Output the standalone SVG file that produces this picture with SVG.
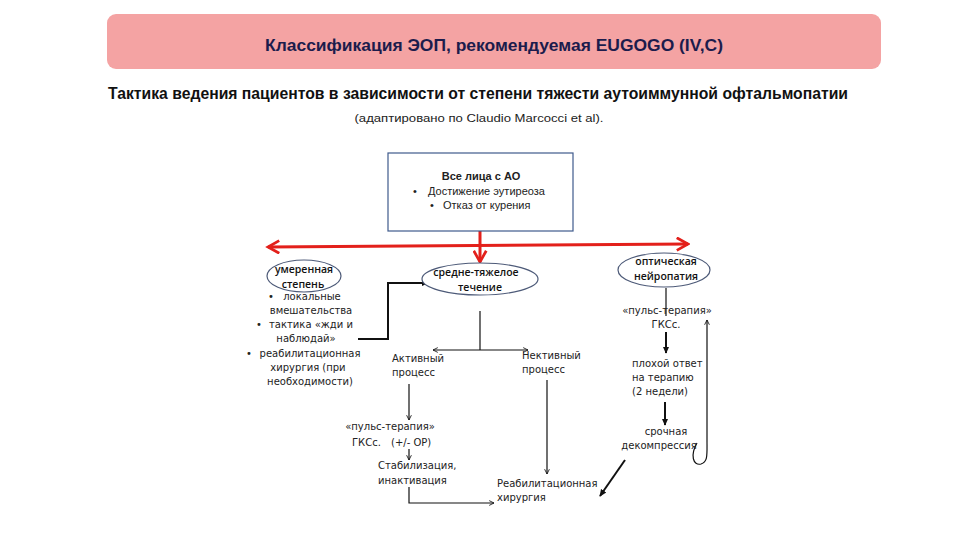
<svg xmlns="http://www.w3.org/2000/svg" width="960" height="540" viewBox="0 0 960 540">
<defs>
<style>
.title{font-family:"Liberation Sans",Arial,sans-serif;font-weight:bold;fill:#1c1c4c}
.box{font-family:"Liberation Sans",Arial,sans-serif;font-size:11px;fill:#222}
.ell{font-family:"Open Sans","Liberation Sans",sans-serif;font-weight:600;font-size:10.5px;fill:#111}
.lbl{font-family:"DejaVu Sans","Liberation Sans",sans-serif;font-size:10px;fill:#222}
.red{stroke:#e3201b;stroke-width:3;fill:none}
.ln{stroke:#111;stroke-width:1.2;fill:none}
.lnb{stroke:#111;stroke-width:2;fill:none}
.node{fill:#fff;stroke:#4d5a78;stroke-width:1.2}
</style>
<marker id="rh" viewBox="0 0 12 12" refX="10" refY="6" markerWidth="5" markerHeight="5" orient="auto-start-reverse" markerUnits="strokeWidth">
<path d="M1,1 L10,6 L1,11" fill="none" stroke="#e3201b" stroke-width="2.2"/>
</marker>
<marker id="ah" viewBox="0 0 10 10" refX="9" refY="5" markerWidth="6" markerHeight="6" orient="auto-start-reverse" markerUnits="userSpaceOnUse">
<path d="M1,1 L9,5 L1,9" fill="none" stroke="#111" stroke-width="1.4"/>
</marker>
<marker id="af" viewBox="0 0 10 10" refX="8" refY="5" markerWidth="8" markerHeight="8" orient="auto" markerUnits="userSpaceOnUse">
<path d="M0,1 L9,5 L0,9 Z" fill="#111"/>
</marker>
</defs>
<rect width="960" height="540" fill="#fff"/>

<g id="header">
<rect x="107" y="14" width="774" height="55" rx="9" fill="#f4a3a3"/>
<text class="title" x="494" y="51" font-size="16.5" text-anchor="middle" textLength="458" lengthAdjust="spacingAndGlyphs">Классификация ЭОП, рекомендуемая EUGOGO (IV,C)</text>
<text class="title" x="478" y="99" font-size="16.5" style="fill:#111" text-anchor="middle" textLength="740" lengthAdjust="spacingAndGlyphs">Тактика ведения пациентов в зависимости от степени тяжести аутоиммунной офтальмопатии</text>
<text class="box" x="479" y="122" style="font-size:11.5px" text-anchor="middle" textLength="249" lengthAdjust="spacingAndGlyphs">(адаптировано по Claudio Marcocci et al).</text>
</g>

<g id="connectors">
<line class="red" x1="268" y1="247" x2="688" y2="244" marker-start="url(#rh)" marker-end="url(#rh)"/>
<line class="red" x1="480" y1="231" x2="480" y2="262" marker-end="url(#rh)"/>
<path class="lnb" d="M358,339 H388 V283 H428" marker-end="url(#af)"/>
<line class="ln" x1="480" y1="311" x2="480" y2="350"/>
<line class="ln" x1="433" y1="350" x2="528" y2="350" marker-start="url(#ah)" marker-end="url(#ah)"/>
<line class="ln" x1="409" y1="384" x2="409" y2="420" marker-end="url(#ah)"/>
<line class="ln" x1="409" y1="449" x2="409" y2="460" marker-end="url(#ah)"/>
<path class="ln" d="M409,487 V503 H494" marker-end="url(#ah)"/>
<line class="ln" x1="547" y1="380" x2="547" y2="474" marker-end="url(#ah)"/>
<line class="ln" x1="666" y1="288" x2="666" y2="316"/>
<line class="lnb" x1="666" y1="332" x2="666" y2="353" marker-end="url(#af)"/>
<line class="lnb" x1="665" y1="402" x2="665" y2="425" marker-end="url(#af)"/>
<path class="ln" d="M697,443 C690,455 693,466 701,464 C708,462 707,455 707,440 L707,320" marker-end="url(#ah)"/>
<line class="lnb" x1="625" y1="460" x2="600" y2="496" marker-end="url(#af)"/>
</g>

<g id="n-all">
<rect x="388" y="153" width="185" height="78" fill="#fff" stroke="#3f5a8c" stroke-width="1.2"/>
<text class="box" x="481" y="180" text-anchor="middle" font-weight="bold">Все лица с АО</text>
<text class="box" x="413" y="195">•</text>
<text class="box" x="428" y="195">Достижение эутиреоза</text>
<text class="box" x="430" y="209">•</text>
<text class="box" x="443" y="209">Отказ от курения</text>
</g>

<g id="n-mild">
<ellipse class="node" cx="304" cy="276" rx="37" ry="16"/>
<text class="ell" x="304" y="273" text-anchor="middle">умеренная</text>
<text class="ell" x="303" y="288" text-anchor="middle">степень</text>
<text class="lbl" x="268" y="300">•</text>
<text class="lbl" x="312" y="300" text-anchor="middle">локальные</text>
<text class="lbl" x="311" y="314" text-anchor="middle">вмешательства</text>
<text class="lbl" x="256" y="328">•</text>
<text class="lbl" x="311" y="328" text-anchor="middle">тактика «жди и</text>
<text class="lbl" x="306" y="342" text-anchor="middle">наблюдай»</text>
<text class="lbl" x="246" y="357">•</text>
<text class="lbl" x="310" y="357" text-anchor="middle">реабилитационная</text>
<text class="lbl" x="308" y="371" text-anchor="middle">хирургия (при</text>
<text class="lbl" x="310" y="385" text-anchor="middle">необходимости)</text>
</g>

<g id="n-moderate">
<ellipse class="node" cx="480" cy="279" rx="58" ry="16"/>
<text class="ell" x="476" y="276" text-anchor="middle">средне-тяжелое</text>
<text class="ell" x="480" y="291" text-anchor="middle">течение</text>
</g>

<g id="n-optic">
<ellipse class="node" cx="664" cy="270" rx="46" ry="17"/>
<text class="ell" x="666" y="265" text-anchor="middle">оптическая</text>
<text class="ell" x="666" y="280" text-anchor="middle">нейропатия</text>
</g>

<g id="n-active">
<text class="lbl" x="392" y="362">Активный</text>
<text class="lbl" x="392" y="376">процесс</text>
</g>

<g id="n-inactive">
<text class="lbl" x="522" y="359">Нективный</text>
<text class="lbl" x="522" y="373">процесс</text>
</g>

<g id="n-pulse1">
<text class="lbl" x="390" y="430" text-anchor="middle">«пульс-терапия»</text>
<text class="lbl" x="352" y="446">ГКСс.</text>
<text class="lbl" x="391" y="446">(+/- ОР)</text>
</g>

<g id="n-stab">
<text class="lbl" x="378" y="469">Стабилизация,</text>
<text class="lbl" x="378" y="484">инактивация</text>
</g>

<g id="n-rehab">
<text class="lbl" x="497" y="487">Реабилитационная</text>
<text class="lbl" x="497" y="501">хирургия</text>
</g>

<g id="n-pulse2">
<text class="lbl" x="667" y="314" text-anchor="middle">«пульс-терапия»</text>
<text class="lbl" x="666" y="328" text-anchor="middle">ГКСс.</text>
</g>

<g id="n-poor">
<text class="lbl" x="632" y="367">плохой ответ</text>
<text class="lbl" x="632" y="381">на  терапию</text>
<text class="lbl" x="632" y="395">(2 недели)</text>
</g>

<g id="n-decomp">
<text class="lbl" x="666" y="435" text-anchor="middle">срочная</text>
<text class="lbl" x="659" y="449" text-anchor="middle">декомпрессия</text>
</g>
</svg>
